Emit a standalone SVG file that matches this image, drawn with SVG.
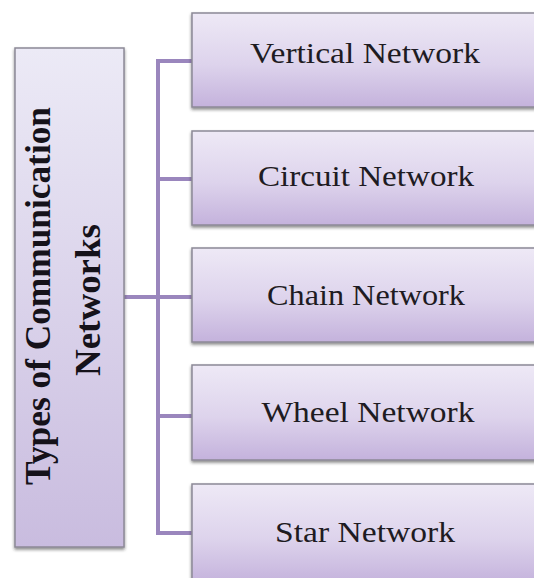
<svg xmlns="http://www.w3.org/2000/svg" width="534" height="578" viewBox="0 0 534 578">
<defs>
<linearGradient id="gBox" x1="0" y1="0" x2="0" y2="1">
<stop offset="0" stop-color="#eee9f6"/>
<stop offset="0.55" stop-color="#ddd3ec"/>
<stop offset="1" stop-color="#c4b2dc"/>
</linearGradient>
<linearGradient id="gLeft" x1="0" y1="0" x2="0" y2="1">
<stop offset="0" stop-color="#eceaf6"/>
<stop offset="1" stop-color="#c9bcdf"/>
</linearGradient>
<filter id="sh" x="-10%" y="-10%" width="120%" height="130%">
<feDropShadow dx="0" dy="2" stdDeviation="1.5" flood-color="#333" flood-opacity="0.55"/>
</filter>
</defs>
<style>
.box{fill:url(#gBox);stroke:#8c8996;stroke-width:1.5;filter:url(#sh)}
.lbox{fill:url(#gLeft);stroke:#8c8996;stroke-width:1.5;filter:url(#sh)}
.lbl{font-family:"Liberation Serif","Times New Roman",serif;font-size:29px;fill:#1e1b22;text-anchor:middle}
.ttl{font-family:"Liberation Serif","Times New Roman",serif;font-size:35px;font-weight:bold;fill:#15121a;text-anchor:middle}
.con{fill:none;stroke:#9a86bd;stroke-width:4}
</style>
<rect width="534" height="578" fill="#ffffff"/>
<g id="connectors">
<path class="con" d="M124 297 H158 M158 61 V533 M156 61 H192 M156 179 H192 M158 297 H192 M156 416 H192 M156 533 H192"/>
</g>
<g id="root">
<rect class="lbox" x="15" y="48" width="109" height="499"/>
<text class="ttl" transform="translate(50,296) rotate(-90)" x="0" y="0" textLength="378" lengthAdjust="spacingAndGlyphs">Types of Communication</text>
<text class="ttl" transform="translate(100,300) rotate(-90)" x="0" y="0" textLength="152" lengthAdjust="spacingAndGlyphs">Networks</text>
</g>
<g id="vertical">
<rect class="box" x="192" y="13" width="350" height="94"/>
<text class="lbl" x="365" y="63" textLength="230" lengthAdjust="spacingAndGlyphs">Vertical Network</text>
</g>
<g id="circuit">
<rect class="box" x="192" y="131" width="350" height="94"/>
<text class="lbl" x="366" y="186" textLength="216" lengthAdjust="spacingAndGlyphs">Circuit Network</text>
</g>
<g id="chain">
<rect class="box" x="192" y="248" width="350" height="94"/>
<text class="lbl" x="366" y="305" textLength="198" lengthAdjust="spacingAndGlyphs">Chain Network</text>
</g>
<g id="wheel">
<rect class="box" x="192" y="365" width="350" height="95"/>
<text class="lbl" x="368" y="422" textLength="213" lengthAdjust="spacingAndGlyphs">Wheel Network</text>
</g>
<g id="star">
<rect class="box" x="192" y="484" width="350" height="100"/>
<text class="lbl" x="365" y="542" textLength="180" lengthAdjust="spacingAndGlyphs">Star Network</text>
</g>
</svg>
